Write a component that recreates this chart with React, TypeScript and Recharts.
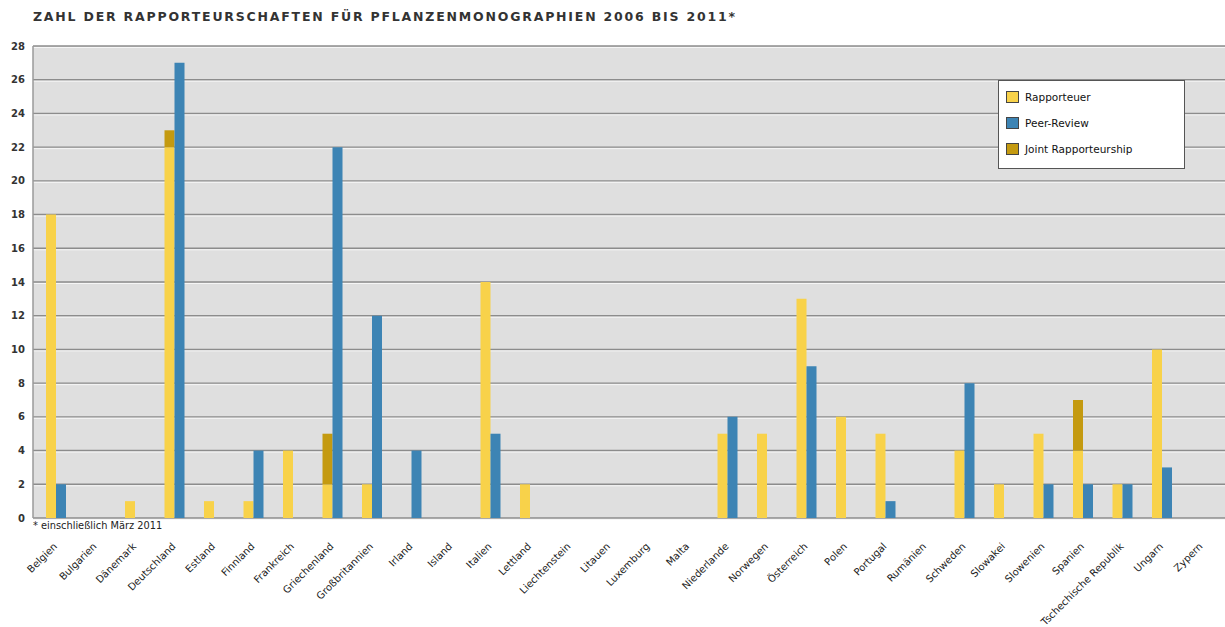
import { Bar, BarChart, CartesianGrid, XAxis, YAxis } from 'recharts'

const countries = [
  'Belgien', 'Bulgarien', 'Dänemark', 'Deutschland', 'Estland', 'Finnland', 'Frankreich', 'Griechenland',
  'Großbritannien', 'Irland', 'Island', 'Italien', 'Lettland', 'Liechtenstein', 'Litauen', 'Luxemburg',
  'Malta', 'Niederlande', 'Norwegen', 'Österreich', 'Polen', 'Portugal', 'Rumänien', 'Schweden',
  'Slowakei', 'Slowenien', 'Spanien', 'Tschechische Republik', 'Ungarn', 'Zypern',
]
const rapporteur = [18, 0, 1, 22, 1, 1, 4, 2, 2, 0, 0, 14, 2, 0, 0, 0, 0, 5, 5, 13, 6, 5, 0, 4, 2, 5, 4, 2, 10, 0]
const jointRapporteurship = [0, 0, 0, 1, 0, 0, 0, 3, 0, 0, 0, 0, 0, 0, 0, 0, 0, 0, 0, 0, 0, 0, 0, 0, 0, 0, 3, 0, 0, 0]
const peerReview = [2, 0, 0, 27, 0, 4, 0, 22, 12, 4, 0, 5, 0, 0, 0, 0, 0, 6, 0, 9, 0, 1, 0, 8, 0, 2, 2, 2, 3, 0]
const yTicks = [0, 2, 4, 6, 8, 10, 12, 14, 16, 18, 20, 22, 24, 26, 28]

const legendItems = [
  { name: 'Rapporteuer', color: '#f8d24a' },
  { name: 'Peer-Review', color: '#3d84b4' },
  { name: 'Joint Rapporteurship', color: '#c49a10' },
]

const data = countries.map((country, i) => ({
  country,
  rapporteur: rapporteur[i],
  joint: jointRapporteurship[i],
  peer: peerReview[i],
}))

const font = '"DejaVu Sans", Verdana, sans-serif'

// grid line with a light line under it, like the embossed lines of the original
const GridLine = (props: any) => (
  <g>
    <line x1={props.x1} x2={props.x2} y1={props.y1} y2={props.y2} stroke="#8c8c8c" strokeWidth={1.4} />
    <line x1={props.x1} x2={props.x2} y1={props.y1 + 1.5} y2={props.y2 + 1.5} stroke="#f6f6f6" strokeWidth={1} />
  </g>
)

const CountryTick = ({ x, y, payload }: any) => {
  const tx = x + 2
  const ty = y + 21
  return (
    <text x={tx} y={ty} textAnchor="end" transform={`rotate(-45 ${tx} ${ty})`} fontSize={10} fill="#222" fontFamily={font}>
      {payload.value}
    </text>
  )
}

export default function App() {
  return (
    <div style={{ position: 'absolute', left: 0, top: 0, width: 1225, height: 627, overflow: 'hidden', background: '#fff', fontFamily: font }}>
      <div style={{ position: 'absolute', left: 33, top: 9, fontSize: 12.5, fontWeight: 'bold', letterSpacing: 1.8, color: '#333', whiteSpace: 'nowrap' }}>
        ZAHL DER RAPPORTEURSCHAFTEN FÜR PFLANZENMONOGRAPHIEN 2006 BIS 2011*
      </div>
      <BarChart width={1239} height={627} data={data} margin={{ top: 46, right: 0, bottom: 0, left: 0 }} barGap={0} barSize={10}>
        <CartesianGrid vertical={false} fill="#dfdfdf" horizontal={GridLine} />
        <XAxis
          dataKey="country"
          interval={0}
          height={109}
          tickLine={false}
          axisLine={false}
          padding={{ left: 3, right: 18 }}
          tick={CountryTick}
        />
        <YAxis
          width={33}
          domain={[0, 28]}
          ticks={yTicks}
          interval={0}
          tickLine={false}
          axisLine={{ stroke: '#9a9a9a', strokeWidth: 1.5 }}
          tick={{ fill: '#333', fontSize: 10, fontWeight: 'bold', fontFamily: font }}
        />
        <Bar dataKey="rapporteur" stackId="a" fill={legendItems[0].color} isAnimationActive={false} />
        <Bar dataKey="joint" stackId="a" fill={legendItems[2].color} isAnimationActive={false} />
        <Bar dataKey="peer" fill={legendItems[1].color} isAnimationActive={false} />
      </BarChart>
      <div style={{ position: 'absolute', left: 33, top: 520, fontSize: 9.8, color: '#222', whiteSpace: 'nowrap' }}>
        * einschließlich März 2011
      </div>
      <div style={{ position: 'absolute', left: 998, top: 80, width: 187, height: 89, boxSizing: 'border-box', border: '1.5px solid #555', background: '#fff' }}>
        {legendItems.map((item, i) => (
          <div key={item.name} style={{ position: 'absolute', left: 7, top: 10 + i * 26, display: 'flex', alignItems: 'center', whiteSpace: 'nowrap' }}>
            <span style={{ display: 'inline-block', width: 11, height: 10, background: item.color, border: '1px solid #444' }} />
            <span style={{ marginLeft: 6, fontSize: 10.5, color: '#111' }}>{item.name}</span>
          </div>
        ))}
      </div>
    </div>
  )
}
